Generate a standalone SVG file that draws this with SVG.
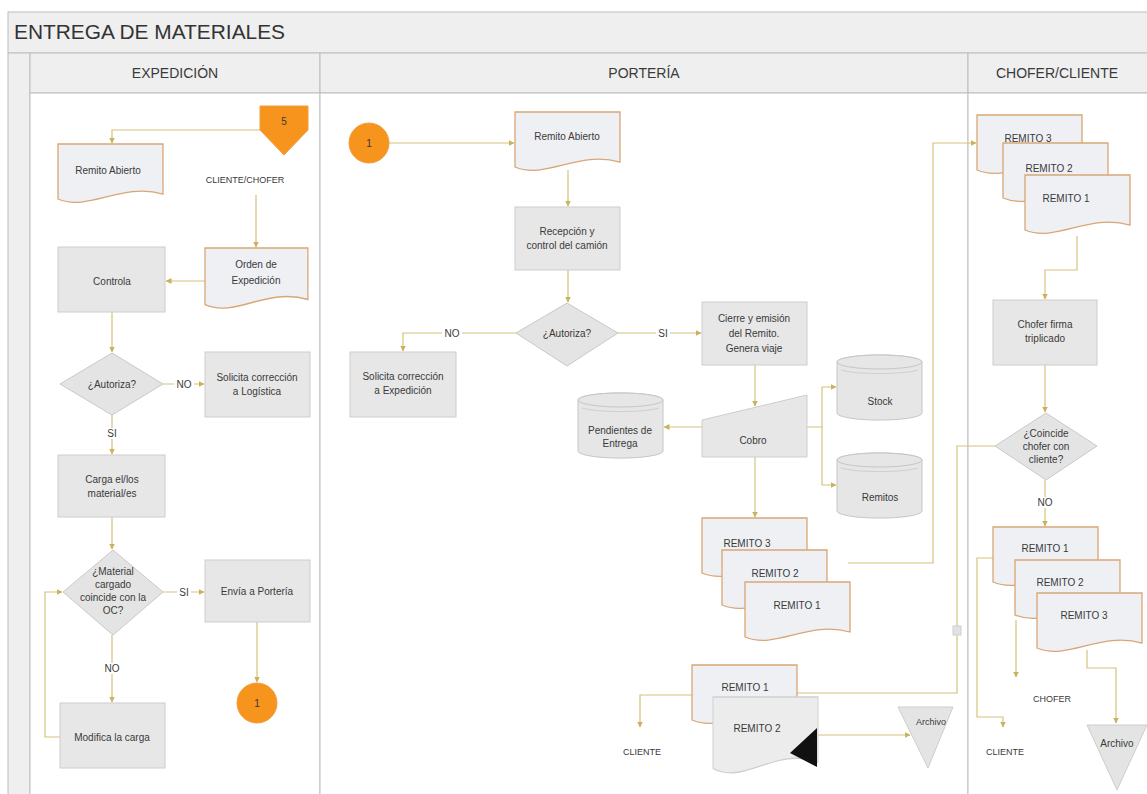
<svg xmlns="http://www.w3.org/2000/svg" width="1147" height="794" viewBox="0 0 1147 794">
  <style>
    .t{font-family:"Liberation Sans",Arial,sans-serif;font-size:10px;fill:#3a3a3a;text-anchor:middle}
    .s{font-size:9px}
    .hd{font-family:"Liberation Sans",Arial,sans-serif;font-size:14px;fill:#3a3a3a;text-anchor:middle}
    .box{fill:#e7e7e7;stroke:#cdcdcd;stroke-width:1}
    .dia{fill:#e4e4e4;stroke:#c9c9c9;stroke-width:1}
    .doc{fill:#eef0f4;stroke:#d9a676;stroke-width:1.3}
    .doc2{fill:#ececec;stroke:#cfcfcf;stroke-width:1}
    .cyl{fill:#e6e6e6;stroke:#c6c6c6;stroke-width:1}
    .tri{fill:#e4e4e4;stroke:#cdcdcd;stroke-width:1}
    .orange{fill:#f7941d;stroke:#f0a040;stroke-width:1}
    .lane{fill:#efefef;stroke:#bdbdbd;stroke-width:1}
    .c{fill:none;stroke:#d6c27c;stroke-width:1.2}
    .lbl{fill:#ffffff}
  </style>
  <defs>
    <marker id="ah" viewBox="0 0 6 6" refX="5.5" refY="3" markerWidth="6" markerHeight="6" orient="auto" markerUnits="userSpaceOnUse">
      <path d="M0,0 L6,3 L0,6 Z" fill="#c9b25c"/>
    </marker>
    <path id="docShape" d="M0,0 H105 V50 C63,38 31,68 0,55 Z"/>
  </defs>

  <!-- pool frame, title band and lane headers -->
  <rect x="0" y="0" width="1147" height="794" fill="#ffffff"/>
  <rect class="lane" x="8" y="12" width="1145" height="41"/>
  <text x="14" y="39" font-family="Liberation Sans,Arial,sans-serif" font-size="20" fill="#333" textLength="271" lengthAdjust="spacingAndGlyphs">ENTREGA DE MATERIALES</text>
  <rect class="lane" x="8" y="53" width="22" height="745"/>
  <rect class="lane" x="30" y="53" width="290" height="40"/>
  <rect class="lane" x="320" y="53" width="648" height="40"/>
  <rect class="lane" x="968" y="53" width="185" height="40"/>
  <rect x="30" y="93" width="290" height="705" fill="#fff" stroke="#bdbdbd"/>
  <rect x="320" y="93" width="648" height="705" fill="#fff" stroke="#bdbdbd"/>
  <rect x="968" y="93" width="185" height="705" fill="#fff" stroke="#bdbdbd"/>
  <text class="hd" x="175" y="78">EXPEDICIÓN</text>
  <text class="hd" x="644" y="78">PORTERÍA</text>
  <text class="hd" x="1057" y="78">CHOFER/CLIENTE</text>

  <!-- connectors -->
  <g id="connectors">
    <polyline class="c" points="260,130 112,130 112,143" marker-end="url(#ah)"/>
    <polyline class="c" points="256,195 256,247" marker-end="url(#ah)"/>
    <polyline class="c" points="205,281 166,281" marker-end="url(#ah)"/>
    <polyline class="c" points="112,312 112,352" marker-end="url(#ah)"/>
    <polyline class="c" points="163,384 204,384" marker-end="url(#ah)"/>
    <polyline class="c" points="112,415 112,454" marker-end="url(#ah)"/>
    <polyline class="c" points="112,517 112,549" marker-end="url(#ah)"/>
    <polyline class="c" points="163,592 204,592" marker-end="url(#ah)"/>
    <polyline class="c" points="112,635 112,702" marker-end="url(#ah)"/>
    <polyline class="c" points="60,737 45,737 45,592 62,592" marker-end="url(#ah)"/>
    <polyline class="c" points="257,622 257,682" marker-end="url(#ah)"/>

    <polyline class="c" points="389,143 514,143" marker-end="url(#ah)"/>
    <polyline class="c" points="568,170 568,206" marker-end="url(#ah)"/>
    <polyline class="c" points="568,270 568,302" marker-end="url(#ah)"/>
    <polyline class="c" points="516,333 403,333 403,351" marker-end="url(#ah)"/>
    <polyline class="c" points="618,333 701,333" marker-end="url(#ah)"/>
    <polyline class="c" points="755,365 755,406" marker-end="url(#ah)"/>
    <polyline class="c" points="702,427 664,427" marker-end="url(#ah)"/>
    <polyline class="c" points="807,427 822,427 822,387 836,387" marker-end="url(#ah)"/>
    <polyline class="c" points="822,427 822,485 836,485" marker-end="url(#ah)"/>
    <polyline class="c" points="755,457 755,517" marker-end="url(#ah)"/>
    <polyline class="c" points="848,563 933,563 933,143 976,143" marker-end="url(#ah)"/>
    <polyline class="c" points="692,695 640,695 640,727" marker-end="url(#ah)"/>
    <polyline class="c" points="818,735 910,735" marker-end="url(#ah)"/>
    <polyline class="c" points="995,446 957,446 957,693 797,693"/>
    <rect x="953" y="626" width="8" height="9" fill="#e2e2e2" stroke="#cfcfcf"/>

    <polyline class="c" points="1077,236 1077,270 1045,270 1045,299" marker-end="url(#ah)"/>
    <polyline class="c" points="1045,365 1045,412" marker-end="url(#ah)"/>
    <polyline class="c" points="1045,480 1045,526" marker-end="url(#ah)"/>
    <polyline class="c" points="993,558 977,558 977,717 1003,717 1003,727" marker-end="url(#ah)"/>
    <polyline class="c" points="1016,620 1016,677" marker-end="url(#ah)"/>
    <polyline class="c" points="1087,650 1087,668 1116,668 1116,723" marker-end="url(#ah)"/>

    <!-- branch labels -->
    <rect class="lbl" x="174" y="379" width="20" height="11"/><text class="t" x="184" y="388">NO</text>
    <rect class="lbl" x="105" y="428" width="14" height="11"/><text class="t" x="112" y="437">SI</text>
    <rect class="lbl" x="177" y="587" width="14" height="11"/><text class="t" x="184" y="596">SI</text>
    <rect class="lbl" x="102" y="663" width="20" height="11"/><text class="t" x="112" y="672">NO</text>
    <rect class="lbl" x="442" y="328" width="20" height="11"/><text class="t" x="452" y="337">NO</text>
    <rect class="lbl" x="656" y="328" width="14" height="11"/><text class="t" x="663" y="337">SI</text>
    <rect class="lbl" x="1035" y="497" width="20" height="11"/><text class="t" x="1045" y="506">NO</text>
    <text class="t s" x="245" y="183">CLIENTE/CHOFER</text>
    <text class="t s" x="642" y="755">CLIENTE</text>
    <text class="t s" x="1052" y="702">CHOFER</text>
    <text class="t s" x="1005" y="755">CLIENTE</text>
  </g>

  <!-- EXPEDICIÓN -->
  <g id="conector-5">
    <polygon class="orange" points="260,106 308,106 308,130 284,155 260,130"/>
    <text class="t" x="284" y="125">5</text>
  </g>
  <g id="exp-remito-abierto">
    <use href="#docShape" class="doc" transform="translate(58,144)"/>
    <text class="t" x="108" y="174">Remito Abierto</text>
  </g>
  <g id="orden-expedicion">
    <use href="#docShape" class="doc" transform="translate(205,248) scale(0.98,1.03)"/>
    <text class="t" x="256" y="268">Orden de</text>
    <text class="t" x="256" y="284">Expedición</text>
  </g>
  <g id="controla">
    <rect class="box" x="58" y="247" width="107" height="65"/>
    <text class="t" x="112" y="285">Controla</text>
  </g>
  <g id="exp-autoriza">
    <polygon class="dia" points="112,353 163,384 112,415 60,384"/>
    <text class="t" x="112" y="388">¿Autoriza?</text>
  </g>
  <g id="solicita-logistica">
    <rect class="box" x="205" y="352" width="105" height="65"/>
    <text class="t" x="257" y="381">Solicita corrección</text>
    <text class="t" x="257" y="395">a Logística</text>
  </g>
  <g id="carga">
    <rect class="box" x="58" y="455" width="107" height="62"/>
    <text class="t" x="112" y="483">Carga el/los</text>
    <text class="t" x="112" y="497">material/es</text>
  </g>
  <g id="material-coincide">
    <polygon class="dia" points="113,550 163,592 113,635 63,592"/>
    <text class="t" x="113" y="575">¿Material</text>
    <text class="t" x="113" y="588">cargado</text>
    <text class="t" x="113" y="601">coincide con la</text>
    <text class="t" x="113" y="614">OC?</text>
  </g>
  <g id="envia-porteria">
    <rect class="box" x="205" y="560" width="105" height="62"/>
    <text class="t" x="257" y="595">Envía a Portería</text>
  </g>
  <g id="modifica-carga">
    <rect class="box" x="60" y="703" width="105" height="65"/>
    <text class="t" x="112" y="741">Modifica la carga</text>
  </g>
  <g id="conector-1-salida">
    <circle class="orange" cx="257" cy="703" r="20"/>
    <text class="t" x="257" y="707">1</text>
  </g>

  <!-- PORTERÍA -->
  <g id="conector-1-entrada">
    <circle class="orange" cx="369" cy="143" r="20"/>
    <text class="t" x="369" y="147">1</text>
  </g>
  <g id="port-remito-abierto">
    <use href="#docShape" class="doc" transform="translate(515,112)"/>
    <text class="t" x="567" y="140">Remito Abierto</text>
  </g>
  <g id="recepcion">
    <rect class="box" x="515" y="207" width="105" height="63"/>
    <text class="t" x="567" y="235">Recepción y</text>
    <text class="t" x="567" y="249">control del camión</text>
  </g>
  <g id="port-autoriza">
    <polygon class="dia" points="567,303 618,333 567,366 516,333"/>
    <text class="t" x="567" y="337">¿Autoriza?</text>
  </g>
  <g id="solicita-expedicion">
    <rect class="box" x="350" y="352" width="106" height="65"/>
    <text class="t" x="403" y="380">Solicita corrección</text>
    <text class="t" x="403" y="394">a Expedición</text>
  </g>
  <g id="cierre-emision">
    <rect class="box" x="702" y="302" width="105" height="63"/>
    <text class="t" x="754" y="322">Cierre y emisión</text>
    <text class="t" x="754" y="337">del Remito.</text>
    <text class="t" x="754" y="352">Genera viaje</text>
  </g>
  <g id="cobro">
    <polygon class="box" points="702,420 807,395 807,457 702,457"/>
    <text class="t" x="753" y="444">Cobro</text>
  </g>
  <g id="pendientes-entrega">
    <path class="cyl" d="M578,400 V451 A42,7 0 0 0 663,451 V400 A42,7 0 0 0 578,400 Z"/>
    <ellipse class="cyl" cx="620.5" cy="400" rx="42.5" ry="7"/>
    <path d="M582,408 A42,6 0 0 0 659,408" fill="none" stroke="#cfcfcf"/>
    <text class="t" x="620" y="434">Pendientes de</text>
    <text class="t" x="620" y="447">Entrega</text>
  </g>
  <g id="stock">
    <path class="cyl" d="M837,362 V413 A42,7 0 0 0 922,413 V362 A42,7 0 0 0 837,362 Z"/>
    <ellipse class="cyl" cx="879.5" cy="362" rx="42.5" ry="7"/>
    <path d="M841,370 A42,6 0 0 0 918,370" fill="none" stroke="#cfcfcf"/>
    <text class="t" x="880" y="405">Stock</text>
  </g>
  <g id="remitos">
    <path class="cyl" d="M837,460 V511 A42,7 0 0 0 922,511 V460 A42,7 0 0 0 837,460 Z"/>
    <ellipse class="cyl" cx="879.5" cy="460" rx="42.5" ry="7"/>
    <path d="M841,468 A42,6 0 0 0 918,468" fill="none" stroke="#cfcfcf"/>
    <text class="t" x="880" y="501">Remitos</text>
  </g>
  <g id="port-remitos-stack">
    <use href="#docShape" class="doc" transform="translate(702,518)"/>
    <text class="t" x="747" y="547">REMITO 3</text>
    <use href="#docShape" class="doc" transform="translate(722,550)"/>
    <text class="t" x="775" y="577">REMITO 2</text>
    <use href="#docShape" class="doc" transform="translate(745,582)"/>
    <text class="t" x="797" y="609">REMITO 1</text>
  </g>
  <g id="port-remitos-entrega">
    <use href="#docShape" class="doc" transform="translate(692,665)"/>
    <text class="t" x="745" y="691">REMITO 1</text>
    <use href="#docShape" class="doc2" transform="translate(713,697) scale(1,1.3)"/>
    <text class="t" x="757" y="732">REMITO 2</text>
    <polygon points="790,753 817,728 817,767" fill="#111"/>
  </g>
  <g id="port-archivo">
    <polygon class="tri" points="898,707 953,707 928,768"/>
    <text class="t s" x="931" y="725">Archivo</text>
  </g>

  <!-- CHOFER/CLIENTE -->
  <g id="chofer-remitos-stack">
    <use href="#docShape" class="doc" transform="translate(977,115)"/>
    <text class="t" x="1028" y="142">REMITO 3</text>
    <use href="#docShape" class="doc" transform="translate(1003,143)"/>
    <text class="t" x="1049" y="172">REMITO 2</text>
    <use href="#docShape" class="doc" transform="translate(1025,175)"/>
    <text class="t" x="1066" y="202">REMITO 1</text>
  </g>
  <g id="chofer-firma">
    <rect class="box" x="993" y="300" width="104" height="65"/>
    <text class="t" x="1045" y="328">Chofer firma</text>
    <text class="t" x="1045" y="342">triplicado</text>
  </g>
  <g id="coincide-chofer">
    <polygon class="dia" points="1046,413 1097,446 1046,480 995,446"/>
    <text class="t" x="1046" y="437">¿Coincide</text>
    <text class="t" x="1046" y="450">chofer con</text>
    <text class="t" x="1046" y="463">cliente?</text>
  </g>
  <g id="chofer-remitos-entrega">
    <use href="#docShape" class="doc" transform="translate(993,527)"/>
    <text class="t" x="1045" y="552">REMITO 1</text>
    <use href="#docShape" class="doc" transform="translate(1015,560)"/>
    <text class="t" x="1060" y="586">REMITO 2</text>
    <use href="#docShape" class="doc" transform="translate(1037,593)"/>
    <text class="t" x="1084" y="619">REMITO 3</text>
  </g>
  <g id="chofer-archivo">
    <polygon class="tri" points="1087,725 1147,725 1117,790"/>
    <text class="t" x="1117" y="747">Archivo</text>
  </g>
</svg>
